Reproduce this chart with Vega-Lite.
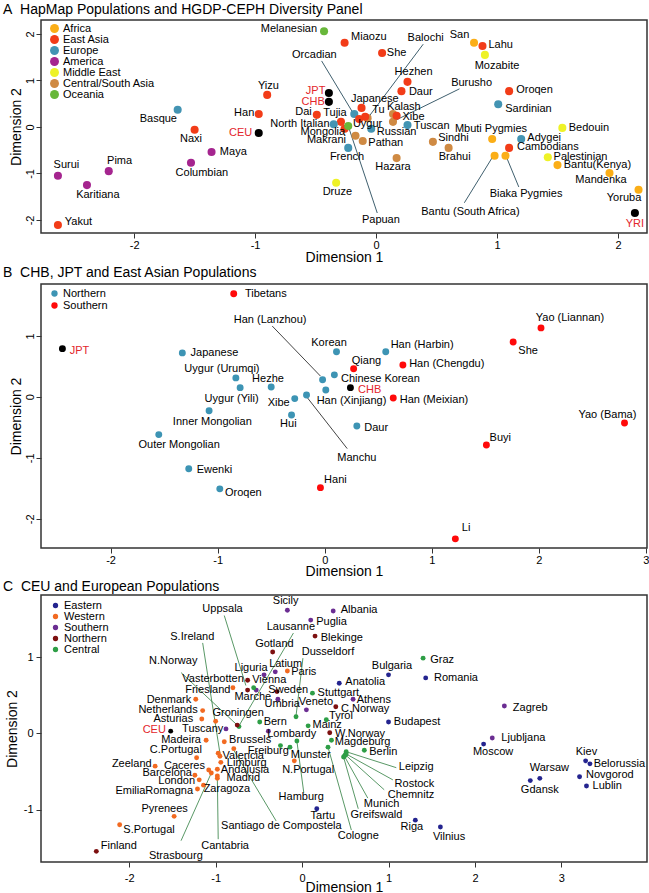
{
  "$schema": "https://vega.github.io/schema/vega-lite/v6.json",
  "background": "white",
  "padding": {"left": 2, "top": 2, "right": 2, "bottom": 2},
  "spacing": 0,
  "config": {
    "font": "Liberation Sans",
    "view": {"stroke": "#333333", "strokeWidth": 1.5},
    "axis": {"grid": false, "domain": false, "tickColor": "#333333", "tickSize": 5, "labelFont": "Liberation Sans", "labelFontSize": 11, "labelColor": "#000000", "titleFont": "Liberation Sans", "titleFontSize": 14, "titleFontWeight": "normal", "titleColor": "#000000", "labelPadding": 1, "titlePadding": 1},
    "title": {"font": "Liberation Sans", "fontSize": 14, "fontWeight": "normal", "color": "#000000", "anchor": "start", "frame": "group"},
    "legend": {"labelFont": "Liberation Sans", "labelFontSize": 11, "labelColor": "#000000", "padding": 0, "rowPadding": 0, "symbolStrokeWidth": 0, "labelOffset": 3}
  },
  "datasets": {
    "a": [
      {"name": "Melanesian", "group": "Oceania", "x": -0.43, "y": 2.06, "labelX": -0.72, "labelY": 2.11},
      {"name": "Miaozu", "group": "East Asia", "x": -0.26, "y": 1.81, "labelX": -0.06, "labelY": 1.94},
      {"name": "She", "group": "East Asia", "x": 0.05, "y": 1.59, "labelX": 0.17, "labelY": 1.59},
      {"name": "San", "group": "Africa", "x": 0.81, "y": 1.81, "labelX": 0.69, "labelY": 1.98},
      {"name": "Lahu", "group": "East Asia", "x": 0.88, "y": 1.74, "labelX": 1.03, "labelY": 1.76},
      {"name": "Mozabite", "group": "Middle East", "x": 0.90, "y": 1.55, "labelX": 1.00, "labelY": 1.31},
      {"name": "Orcadian", "group": "Europe", "x": -0.18, "y": 0.28, "labelX": -0.51, "labelY": 1.55},
      {"name": "Balochi", "group": "Central/South Asia", "x": -0.07, "y": 0.19, "labelX": 0.41, "labelY": 1.91},
      {"name": "Hezhen", "group": "East Asia", "x": 0.26, "y": 0.97, "labelX": 0.31, "labelY": 1.18},
      {"name": "Daur", "group": "East Asia", "x": 0.21, "y": 0.77, "labelX": 0.37, "labelY": 0.75},
      {"name": "Burusho", "group": "Central/South Asia", "x": 0.14, "y": 0.11, "labelX": 0.79, "labelY": 0.95},
      {"name": "Oroqen", "group": "East Asia", "x": 1.10, "y": 0.77, "labelX": 1.31, "labelY": 0.80},
      {"name": "Sardinian", "group": "Europe", "x": 1.01, "y": 0.49, "labelX": 1.26, "labelY": 0.39},
      {"name": "Yizu", "group": "East Asia", "x": -0.90, "y": 0.69, "labelX": -0.89, "labelY": 0.88},
      {"name": "JPT", "group": "HapMap", "x": -0.39, "y": 0.73, "labelX": -0.50, "labelY": 0.77},
      {"name": "CHB", "group": "HapMap", "x": -0.39, "y": 0.54, "labelX": -0.52, "labelY": 0.54},
      {"name": "Basque", "group": "Europe", "x": -1.64, "y": 0.37, "labelX": -1.80, "labelY": 0.17},
      {"name": "Han", "group": "East Asia", "x": -0.97, "y": 0.28, "labelX": -1.09, "labelY": 0.30},
      {"name": "Dai", "group": "East Asia", "x": -0.49, "y": 0.26, "labelX": -0.60, "labelY": 0.32},
      {"name": "Tujia", "group": "East Asia", "x": -0.29, "y": 0.11, "labelX": -0.34, "labelY": 0.30},
      {"name": "Japanese", "group": "East Asia", "x": -0.12, "y": 0.41, "labelX": -0.01, "labelY": 0.60},
      {"name": "Tu", "group": "East Asia", "x": -0.09, "y": 0.22, "labelX": 0.02, "labelY": 0.37},
      {"name": "Kalash", "group": "Central/South Asia", "x": 0.14, "y": 0.28, "labelX": 0.23, "labelY": 0.43},
      {"name": "Xibe", "group": "East Asia", "x": 0.17, "y": 0.24, "labelX": 0.31, "labelY": 0.22},
      {"name": "North Italian", "group": "Europe", "x": -0.35, "y": 0.06, "labelX": -0.63, "labelY": 0.06},
      {"name": "Uygur", "group": "East Asia", "x": -0.14, "y": 0.17, "labelX": -0.07, "labelY": 0.06},
      {"name": "Mongolia", "group": "East Asia", "x": -0.26, "y": -0.04, "labelX": -0.44, "labelY": -0.11},
      {"name": "Makrani", "group": "Central/South Asia", "x": -0.17, "y": -0.19, "labelX": -0.41, "labelY": -0.28},
      {"name": "Papuan", "group": "Oceania", "x": -0.23, "y": 0.02, "labelX": 0.04, "labelY": -2.0},
      {"name": "Pathan", "group": "Central/South Asia", "x": -0.11, "y": -0.30, "labelX": 0.08, "labelY": -0.34},
      {"name": "Russian", "group": "Europe", "x": -0.04, "y": -0.04, "labelX": 0.17, "labelY": -0.11},
      {"name": "Tuscan", "group": "Europe", "x": 0.26, "y": 0.04, "labelX": 0.46, "labelY": 0.02},
      {"name": "French", "group": "Europe", "x": -0.23, "y": -0.45, "labelX": -0.24, "labelY": -0.65},
      {"name": "Sindhi", "group": "Central/South Asia", "x": 0.47, "y": -0.32, "labelX": 0.64, "labelY": -0.24},
      {"name": "Brahui", "group": "Central/South Asia", "x": 0.60, "y": -0.45, "labelX": 0.65, "labelY": -0.65},
      {"name": "Hazara", "group": "Central/South Asia", "x": 0.17, "y": -0.67, "labelX": 0.14, "labelY": -0.86},
      {"name": "Mbuti Pygmies", "group": "Africa", "x": 0.96, "y": -0.26, "labelX": 0.95, "labelY": -0.04},
      {"name": "Adygei", "group": "Europe", "x": 1.20, "y": -0.26, "labelX": 1.39, "labelY": -0.24},
      {"name": "Cambodians", "group": "East Asia", "x": 1.10, "y": -0.45, "labelX": 1.42, "labelY": -0.43},
      {"name": "Bedouin", "group": "Middle East", "x": 1.54, "y": -0.02, "labelX": 1.76, "labelY": -0.02},
      {"name": "Palestinian", "group": "Middle East", "x": 1.42, "y": -0.65, "labelX": 1.69, "labelY": -0.65},
      {"name": "Bantu(Kenya)", "group": "Africa", "x": 1.50, "y": -0.82, "labelX": 1.83, "labelY": -0.82},
      {"name": "Mandenka", "group": "Africa", "x": 1.93, "y": -0.99, "labelX": 1.86, "labelY": -1.14},
      {"name": "Yoruba", "group": "Africa", "x": 2.17, "y": -1.35, "labelX": 2.05, "labelY": -1.53},
      {"name": "YRI", "group": "HapMap", "x": 2.14, "y": -1.85, "labelX": 2.14, "labelY": -2.09},
      {"name": "Bantu (South Africa)", "group": "Africa", "x": 0.98, "y": -0.62, "labelX": 0.78, "labelY": -1.83},
      {"name": "Biaka Pygmies", "group": "Africa", "x": 1.07, "y": -0.62, "labelX": 1.24, "labelY": -1.44},
      {"name": "Druze", "group": "Middle East", "x": -0.33, "y": -1.20, "labelX": -0.32, "labelY": -1.40},
      {"name": "Naxi", "group": "East Asia", "x": -1.50, "y": -0.06, "labelX": -1.53, "labelY": -0.26},
      {"name": "CEU", "group": "HapMap", "x": -0.97, "y": -0.13, "labelX": -1.12, "labelY": -0.13},
      {"name": "Maya", "group": "America", "x": -1.36, "y": -0.54, "labelX": -1.18, "labelY": -0.54},
      {"name": "Columbian", "group": "America", "x": -1.53, "y": -0.77, "labelX": -1.44, "labelY": -0.99},
      {"name": "Pima", "group": "America", "x": -2.21, "y": -0.95, "labelX": -2.12, "labelY": -0.73},
      {"name": "Surui", "group": "America", "x": -2.63, "y": -1.05, "labelX": -2.56, "labelY": -0.82},
      {"name": "Karitiana", "group": "America", "x": -2.39, "y": -1.25, "labelX": -2.30, "labelY": -1.46},
      {"name": "Yakut", "group": "East Asia", "x": -2.63, "y": -2.11, "labelX": -2.46, "labelY": -2.04}
    ],
    "aLines": [
      {"name": "Orcadian", "x": -0.45, "y": 1.42, "x2": -0.19, "y2": 0.30},
      {"name": "Balochi", "x": 0.39, "y": 1.78, "x2": -0.06, "y2": 0.22},
      {"name": "Burusho", "x": 0.69, "y": 0.82, "x2": 0.15, "y2": 0.13},
      {"name": "Papuan", "x": 0.01, "y": -1.85, "x2": -0.23, "y2": 0.02},
      {"name": "Bantu (South Africa)", "x": 0.73, "y": -1.63, "x2": 0.96, "y2": -0.66},
      {"name": "Biaka Pygmies", "x": 1.18, "y": -1.29, "x2": 1.08, "y2": -0.66}
    ],
    "b": [
      {"name": "Tibetans", "group": "Southern", "x": -0.85, "y": 1.69, "labelX": -0.55, "labelY": 1.69},
      {"name": "JPT", "group": "HapMap", "x": -2.45, "y": 0.79, "labelX": -2.29, "labelY": 0.75},
      {"name": "Japanese", "group": "Northern", "x": -1.33, "y": 0.72, "labelX": -1.03, "labelY": 0.72},
      {"name": "Uygur (Urumqi)", "group": "Northern", "x": -0.83, "y": 0.31, "labelX": -0.96, "labelY": 0.46},
      {"name": "Uygur (Yili)", "group": "Northern", "x": -0.79, "y": 0.15, "labelX": -0.87, "labelY": -0.03},
      {"name": "Hezhe", "group": "Northern", "x": -0.50, "y": 0.16, "labelX": -0.53, "labelY": 0.30},
      {"name": "Inner Mongolian", "group": "Northern", "x": -1.08, "y": -0.23, "labelX": -1.05, "labelY": -0.41},
      {"name": "Outer Mongolian", "group": "Northern", "x": -1.55, "y": -0.62, "labelX": -1.36, "labelY": -0.79},
      {"name": "Xibe", "group": "Northern", "x": -0.28, "y": -0.03, "labelX": -0.43, "labelY": -0.10},
      {"name": "Hui", "group": "Northern", "x": -0.31, "y": -0.30, "labelX": -0.34, "labelY": -0.44},
      {"name": "Manchu", "group": "Northern", "x": -0.17, "y": 0.03, "labelX": 0.30, "labelY": -1.00},
      {"name": "Han (Lanzhou)", "group": "Northern", "x": -0.02, "y": 0.28, "labelX": -0.51, "labelY": 1.26},
      {"name": "Han (Xinjiang)", "group": "Northern", "x": 0.01, "y": 0.11, "labelX": 0.25, "labelY": -0.07},
      {"name": "Chinese Korean", "group": "Northern", "x": 0.09, "y": 0.36, "labelX": 0.52, "labelY": 0.30},
      {"name": "Korean", "group": "Northern", "x": 0.11, "y": 0.74, "labelX": 0.04, "labelY": 0.89},
      {"name": "Han (Harbin)", "group": "Northern", "x": 0.57, "y": 0.74, "labelX": 0.91, "labelY": 0.85},
      {"name": "Qiang", "group": "Southern", "x": 0.27, "y": 0.46, "labelX": 0.39, "labelY": 0.59},
      {"name": "Han (Chengdu)", "group": "Southern", "x": 0.73, "y": 0.52, "labelX": 1.14, "labelY": 0.54},
      {"name": "CHB", "group": "HapMap", "x": 0.24, "y": 0.15, "labelX": 0.42, "labelY": 0.11},
      {"name": "Han (Meixian)", "group": "Southern", "x": 0.64, "y": -0.02, "labelX": 1.02, "labelY": -0.05},
      {"name": "Daur", "group": "Northern", "x": 0.30, "y": -0.48, "labelX": 0.48, "labelY": -0.52},
      {"name": "She", "group": "Southern", "x": 1.76, "y": 0.90, "labelX": 1.90, "labelY": 0.75},
      {"name": "Yao (Liannan)", "group": "Southern", "x": 2.02, "y": 1.13, "labelX": 2.29, "labelY": 1.30},
      {"name": "Yao (Bama)", "group": "Southern", "x": 2.80, "y": -0.43, "labelX": 2.64, "labelY": -0.30},
      {"name": "Buyi", "group": "Southern", "x": 1.51, "y": -0.79, "labelX": 1.64, "labelY": -0.67},
      {"name": "Ewenki", "group": "Northern", "x": -1.27, "y": -1.18, "labelX": -1.03, "labelY": -1.20},
      {"name": "Oroqen", "group": "Northern", "x": -0.98, "y": -1.51, "labelX": -0.76, "labelY": -1.57},
      {"name": "Hani", "group": "Southern", "x": -0.04, "y": -1.49, "labelX": 0.10, "labelY": -1.36},
      {"name": "Li", "group": "Southern", "x": 1.22, "y": -2.33, "labelX": 1.32, "labelY": -2.16}
    ],
    "bLines": [
      {"name": "Han (Lanzhou)", "x": -0.49, "y": 1.16, "x2": -0.04, "y2": 0.34},
      {"name": "Manchu", "x": -0.16, "y": -0.02, "x2": 0.21, "y2": -0.85}
    ],
    "c": [
      {"name": "Sicily", "group": "Southern", "x": -0.17, "y": 1.62, "labelX": -0.19, "labelY": 1.74},
      {"name": "Albania", "group": "Southern", "x": 0.36, "y": 1.61, "labelX": 0.66, "labelY": 1.62},
      {"name": "Puglia", "group": "Southern", "x": 0.10, "y": 1.49, "labelX": 0.34, "labelY": 1.47},
      {"name": "Blekinge", "group": "Northern", "x": 0.15, "y": 1.28, "labelX": 0.46, "labelY": 1.26},
      {"name": "Gotland", "group": "Northern", "x": -0.34, "y": 1.07, "labelX": -0.32, "labelY": 1.18},
      {"name": "Graz", "group": "Central", "x": 1.40, "y": 0.99, "labelX": 1.62, "labelY": 0.97},
      {"name": "Bulgaria", "group": "Eastern", "x": 1.00, "y": 0.77, "labelX": 1.04, "labelY": 0.89},
      {"name": "Romania", "group": "Eastern", "x": 1.43, "y": 0.73, "labelX": 1.78, "labelY": 0.73},
      {"name": "Anatolia", "group": "Eastern", "x": 0.43, "y": 0.66, "labelX": 0.73, "labelY": 0.68},
      {"name": "Budapest", "group": "Eastern", "x": 1.00, "y": 0.15, "labelX": 1.33, "labelY": 0.15},
      {"name": "Zagreb", "group": "Southern", "x": 2.34, "y": 0.36, "labelX": 2.64, "labelY": 0.34},
      {"name": "Ljubljana", "group": "Southern", "x": 2.20, "y": -0.06, "labelX": 2.56, "labelY": -0.06},
      {"name": "Moscow", "group": "Eastern", "x": 2.10, "y": -0.14, "labelX": 2.21, "labelY": -0.24},
      {"name": "Kiev", "group": "Eastern", "x": 3.28, "y": -0.36, "labelX": 3.29, "labelY": -0.24},
      {"name": "Belorussia", "group": "Eastern", "x": 3.33, "y": -0.40, "labelX": 3.67, "labelY": -0.40},
      {"name": "Novgorod", "group": "Eastern", "x": 3.21, "y": -0.57, "labelX": 3.56, "labelY": -0.55},
      {"name": "Lublin", "group": "Eastern", "x": 3.29, "y": -0.69, "labelX": 3.53, "labelY": -0.69},
      {"name": "Warsaw", "group": "Eastern", "x": 2.75, "y": -0.59, "labelX": 2.86, "labelY": -0.45},
      {"name": "Gdansk", "group": "Eastern", "x": 2.64, "y": -0.62, "labelX": 2.75, "labelY": -0.74},
      {"name": "Riga", "group": "Eastern", "x": 1.31, "y": -1.14, "labelX": 1.27, "labelY": -1.23},
      {"name": "Vilnius", "group": "Eastern", "x": 1.60, "y": -1.23, "labelX": 1.70, "labelY": -1.36},
      {"name": "Tartu", "group": "Eastern", "x": 0.17, "y": -0.99, "labelX": 0.24, "labelY": -1.09},
      {"name": "Hamburg", "group": "Central", "x": -0.06, "y": -0.10, "labelX": -0.01, "labelY": -0.84},
      {"name": "Cologne", "group": "Central", "x": 0.30, "y": -0.18, "labelX": 0.65, "labelY": -1.35},
      {"name": "Leipzig", "group": "Central", "x": 0.51, "y": -0.24, "labelX": 1.32, "labelY": -0.44},
      {"name": "Rostock", "group": "Central", "x": 0.51, "y": -0.27, "labelX": 1.30, "labelY": -0.66},
      {"name": "Chemnitz", "group": "Central", "x": 0.50, "y": -0.28, "labelX": 1.26, "labelY": -0.81},
      {"name": "Munich", "group": "Central", "x": 0.49, "y": -0.30, "labelX": 0.92, "labelY": -0.93},
      {"name": "Greifswald", "group": "Central", "x": 0.48, "y": -0.31, "labelX": 0.86, "labelY": -1.07},
      {"name": "Berlin", "group": "Central", "x": 0.72, "y": -0.22, "labelX": 0.94, "labelY": -0.24},
      {"name": "Magdeburg", "group": "Central", "x": 0.34, "y": -0.09, "labelX": 0.70, "labelY": -0.11},
      {"name": "W.Norway", "group": "Northern", "x": 0.32, "y": 0.01, "labelX": 0.67, "labelY": -0.01},
      {"name": "Mainz", "group": "Central", "x": 0.07, "y": 0.10, "labelX": 0.29, "labelY": 0.11},
      {"name": "Tyrol", "group": "Central", "x": 0.28, "y": 0.18, "labelX": 0.45, "labelY": 0.23},
      {"name": "C.Norway", "group": "Northern", "x": 0.39, "y": 0.35, "labelX": 0.73, "labelY": 0.32},
      {"name": "Athens", "group": "Southern", "x": 0.59, "y": 0.45, "labelX": 0.83, "labelY": 0.44},
      {"name": "Stuttgart", "group": "Central", "x": 0.12, "y": 0.53, "labelX": 0.42, "labelY": 0.53},
      {"name": "Veneto", "group": "Southern", "x": 0.05, "y": 0.31, "labelX": 0.16, "labelY": 0.41},
      {"name": "Dusseldorf", "group": "Central", "x": -0.07, "y": 0.22, "labelX": 0.30, "labelY": 1.07},
      {"name": "Lombardy", "group": "Southern", "x": -0.39, "y": 0.03, "labelX": -0.12, "labelY": -0.01},
      {"name": "Bern", "group": "Central", "x": -0.49, "y": 0.15, "labelX": -0.31, "labelY": 0.15},
      {"name": "Freiburg", "group": "Central", "x": -0.25, "y": -0.16, "labelX": -0.39, "labelY": -0.23},
      {"name": "Munster", "group": "Central", "x": -0.14, "y": -0.18, "labelX": 0.10, "labelY": -0.28},
      {"name": "N.Portugal", "group": "Western", "x": -0.09, "y": -0.36, "labelX": 0.07, "labelY": -0.48},
      {"name": "Umbria", "group": "Southern", "x": -0.28, "y": 0.45, "labelX": -0.23, "labelY": 0.39},
      {"name": "Sweden", "group": "Northern", "x": -0.29, "y": 0.55, "labelX": -0.16, "labelY": 0.57},
      {"name": "Marche", "group": "Southern", "x": -0.53, "y": 0.57, "labelX": -0.57, "labelY": 0.48},
      {"name": "Vienna", "group": "Central", "x": -0.56, "y": 0.60, "labelX": -0.38, "labelY": 0.70},
      {"name": "Uppsala", "group": "Northern", "x": -0.63, "y": 0.57, "labelX": -0.92, "labelY": 1.63},
      {"name": "Vasterbotten", "group": "Northern", "x": -0.63, "y": 0.70, "labelX": -1.03, "labelY": 0.72},
      {"name": "Liguria", "group": "Southern", "x": -0.44, "y": 0.77, "labelX": -0.59, "labelY": 0.86},
      {"name": "Latium", "group": "Southern", "x": -0.31, "y": 0.81, "labelX": -0.19, "labelY": 0.91},
      {"name": "Paris", "group": "Western", "x": -0.17, "y": 0.82, "labelX": 0.02, "labelY": 0.81},
      {"name": "Lausanne", "group": "Central", "x": -0.73, "y": 0.09, "labelX": -0.13, "labelY": 1.40},
      {"name": "Friesland", "group": "Western", "x": -0.80, "y": 0.60, "labelX": -1.09, "labelY": 0.57},
      {"name": "Denmark", "group": "Western", "x": -1.23, "y": 0.45, "labelX": -1.54, "labelY": 0.44},
      {"name": "Netherlands", "group": "Western", "x": -1.15, "y": 0.30, "labelX": -1.55, "labelY": 0.31},
      {"name": "Asturias", "group": "Western", "x": -1.16, "y": 0.19, "labelX": -1.49, "labelY": 0.19},
      {"name": "Groningen", "group": "Western", "x": -1.00, "y": 0.16, "labelX": -0.74, "labelY": 0.27},
      {"name": "N.Norway", "group": "Northern", "x": -0.75, "y": 0.11, "labelX": -1.49, "labelY": 0.95},
      {"name": "S.Ireland", "group": "Western", "x": -0.95, "y": -0.30, "labelX": -1.27, "labelY": 1.27},
      {"name": "Tuscany", "group": "Southern", "x": -0.88, "y": 0.06, "labelX": -1.15, "labelY": 0.06},
      {"name": "CEU", "group": "HapMap", "x": -1.52, "y": 0.03, "labelX": -1.71, "labelY": 0.05},
      {"name": "Madeira", "group": "Western", "x": -1.11, "y": -0.09, "labelX": -1.40, "labelY": -0.09},
      {"name": "Brussels", "group": "Western", "x": -0.90, "y": -0.11, "labelX": -0.60, "labelY": -0.09},
      {"name": "C.Portugal", "group": "Western", "x": -1.22, "y": -0.32, "labelX": -1.46, "labelY": -0.22},
      {"name": "Santiago de Compostela", "group": "Western", "x": -0.79, "y": -0.20, "labelX": -0.24, "labelY": -1.22},
      {"name": "Valencia", "group": "Western", "x": -0.97, "y": -0.26, "labelX": -0.68, "labelY": -0.30},
      {"name": "Limburg", "group": "Western", "x": -0.94, "y": -0.38, "labelX": -0.64, "labelY": -0.39},
      {"name": "Andalusia", "group": "Western", "x": -0.98, "y": -0.47, "labelX": -0.66, "labelY": -0.48},
      {"name": "Caceres", "group": "Western", "x": -1.08, "y": -0.48, "labelX": -1.36, "labelY": -0.43},
      {"name": "Barcelona", "group": "Western", "x": -1.24, "y": -0.55, "labelX": -1.56, "labelY": -0.52},
      {"name": "London", "group": "Western", "x": -1.19, "y": -0.61, "labelX": -1.45, "labelY": -0.63},
      {"name": "Madrid", "group": "Western", "x": -0.98, "y": -0.59, "labelX": -0.68, "labelY": -0.59},
      {"name": "Zaragoza", "group": "Western", "x": -1.14, "y": -0.68, "labelX": -0.87, "labelY": -0.73},
      {"name": "EmiliaRomagna", "group": "Western", "x": -1.21, "y": -0.73, "labelX": -1.71, "labelY": -0.76},
      {"name": "Zeeland", "group": "Western", "x": -1.70, "y": -0.43, "labelX": -1.97, "labelY": -0.40},
      {"name": "Pyrenees", "group": "Western", "x": -1.48, "y": -1.09, "labelX": -1.59, "labelY": -0.99},
      {"name": "S.Portugal", "group": "Western", "x": -2.11, "y": -1.20, "labelX": -1.77, "labelY": -1.27},
      {"name": "Finland", "group": "Northern", "x": -2.38, "y": -1.55, "labelX": -2.12, "labelY": -1.48},
      {"name": "Strasbourg", "group": "Western", "x": -1.05, "y": -0.52, "labelX": -1.46, "labelY": -1.61},
      {"name": "Cantabria", "group": "Western", "x": -0.98, "y": -0.56, "labelX": -0.89, "labelY": -1.48}
    ],
    "cLines": [
      {"name": "Uppsala", "x": -0.90, "y": 1.55, "x2": -0.65, "y2": 0.63},
      {"name": "S.Ireland", "x": -1.15, "y": 1.19, "x2": -0.95, "y2": -0.26},
      {"name": "N.Norway", "x": -1.40, "y": 0.80, "x2": -0.76, "y2": 0.12},
      {"name": "Lausanne", "x": -0.10, "y": 1.32, "x2": -0.73, "y2": 0.10},
      {"name": "Dusseldorf", "x": 0.01, "y": 0.99, "x2": -0.07, "y2": 0.23},
      {"name": "Strasbourg", "x": -1.40, "y": -1.41, "x2": -1.05, "y2": -0.52},
      {"name": "Cantabria", "x": -0.97, "y": -1.39, "x2": -0.98, "y2": -0.59},
      {"name": "Santiago de Compostela", "x": -0.30, "y": -1.15, "x2": -0.79, "y2": -0.22},
      {"name": "Hamburg", "x": 0.02, "y": -0.78, "x2": -0.06, "y2": -0.10},
      {"name": "Cologne", "x": 0.57, "y": -1.27, "x2": 0.30, "y2": -0.18},
      {"name": "Leipzig", "x": 1.09, "y": -0.45, "x2": 0.51, "y2": -0.24},
      {"name": "Rostock", "x": 1.05, "y": -0.61, "x2": 0.51, "y2": -0.27},
      {"name": "Chemnitz", "x": 0.95, "y": -0.74, "x2": 0.50, "y2": -0.28},
      {"name": "Munich", "x": 0.76, "y": -0.85, "x2": 0.49, "y2": -0.30},
      {"name": "Greifswald", "x": 0.65, "y": -0.99, "x2": 0.48, "y2": -0.31}
    ]
  },
  "resolve": {"scale": {"color": "independent", "x": "independent", "y": "independent"}, "legend": {"color": "independent"}, "axis": {"x": "independent", "y": "independent"}},
  "vconcat": [
    {
      "title": {"text": "A\u00a0\u00a0HapMap Populations and HGDP-CEPH Diversity Panel", "dx": -38, "offset": 3},
      "width": 606,
      "height": 213,
      "layer": [
        {
          "data": {"name": "aLines"},
          "mark": {"type": "rule", "color": "#3f5f6e", "strokeWidth": 1},
          "encoding": {
            "x": {"field": "x", "type": "quantitative", "title": "Dimension 1", "scale": {"domain": [-2.77, 2.24], "nice": false, "zero": false}, "axis": {"values": [-2, -1, 0, 1, 2], "labelExpr": "'' + datum.value", "titlePadding": 0}},
            "y": {"field": "y", "type": "quantitative", "title": "Dimension 2", "scale": {"domain": [-2.28, 2.30], "nice": false, "zero": false}, "axis": {"values": [-2, -1, 0, 1, 2], "labelExpr": "'' + datum.value", "labelAngle": 270}},
            "x2": {"field": "x2"},
            "y2": {"field": "y2"}
          }
        },
        {
          "data": {"name": "a"},
          "mark": {"type": "circle", "size": 65, "opacity": 1},
          "encoding": {
            "x": {"field": "x", "type": "quantitative", "title": "Dimension 1"},
            "y": {"field": "y", "type": "quantitative", "title": "Dimension 2"},
            "color": {"field": "group", "type": "nominal", "scale": {"domain": ["Africa", "East Asia", "Europe", "America", "Middle East", "Central/South Asia", "Oceania", "HapMap"], "range": ["#fbae17", "#f23c18", "#4394b3", "#a5258f", "#eef227", "#cf8a43", "#68b73a", "#000000"]}, "legend": {"title": null, "values": ["Africa", "East Asia", "Europe", "America", "Middle East", "Central/South Asia", "Oceania"], "orient": "none", "legendX": 8, "legendY": 3, "symbolSize": 80, "symbolType": "circle", "rowPadding": -1}}
          }
        },
        {
          "data": {"name": "a"},
          "mark": {"type": "text", "fontSize": 11, "align": "center", "baseline": "middle", "font": "Liberation Sans"},
          "encoding": {
            "x": {"field": "labelX", "type": "quantitative", "title": "Dimension 1"},
            "y": {"field": "labelY", "type": "quantitative", "title": "Dimension 2"},
            "text": {"field": "name"},
            "color": {"condition": {"test": "datum.group === 'HapMap'", "value": "#e3262b"}, "value": "#000000"}
          }
        }
      ]
    },
    {
      "title": {"text": "B\u00a0\u00a0CHB, JPT and East Asian Populations", "dx": -38, "offset": 4},
      "width": 606,
      "height": 264,
      "layer": [
        {
          "data": {"name": "bLines"},
          "mark": {"type": "rule", "color": "#444444", "strokeWidth": 1},
          "encoding": {
            "x": {"field": "x", "type": "quantitative", "title": "Dimension 1", "scale": {"domain": [-2.65, 3.01], "nice": false, "zero": false}, "axis": {"values": [-2, -1, 0, 1, 2, 3], "labelExpr": "'' + datum.value", "titlePadding": -1}},
            "y": {"field": "y", "type": "quantitative", "title": "Dimension 2", "scale": {"domain": [-2.48, 1.85], "nice": false, "zero": false}, "axis": {"values": [-2, -1, 0, 1], "labelExpr": "'' + datum.value", "labelAngle": 270}},
            "x2": {"field": "x2"},
            "y2": {"field": "y2"}
          }
        },
        {
          "data": {"name": "b"},
          "mark": {"type": "circle", "size": 48, "opacity": 1},
          "encoding": {
            "x": {"field": "x", "type": "quantitative", "title": "Dimension 1"},
            "y": {"field": "y", "type": "quantitative", "title": "Dimension 2"},
            "color": {"field": "group", "type": "nominal", "scale": {"domain": ["Northern", "Southern", "HapMap"], "range": ["#3d94b4", "#ff0a0a", "#000000"]}, "legend": {"title": null, "values": ["Northern", "Southern"], "orient": "none", "legendX": 8, "legendY": 4, "symbolSize": 40, "symbolType": "circle"}}
          }
        },
        {
          "data": {"name": "b"},
          "mark": {"type": "text", "fontSize": 11, "align": "center", "baseline": "middle", "font": "Liberation Sans"},
          "encoding": {
            "x": {"field": "labelX", "type": "quantitative", "title": "Dimension 1"},
            "y": {"field": "labelY", "type": "quantitative", "title": "Dimension 2"},
            "text": {"field": "name"},
            "color": {"condition": {"test": "datum.group === 'HapMap'", "value": "#e3262b"}, "value": "#000000"}
          }
        }
      ]
    },
    {
      "title": {"text": "C\u00a0\u00a0CEU and European Populations", "dx": -38, "offset": 1},
      "width": 606,
      "height": 267,
      "layer": [
        {
          "data": {"name": "cLines"},
          "mark": {"type": "rule", "color": "#2f7d3f", "strokeWidth": 0.8},
          "encoding": {
            "x": {"field": "x", "type": "quantitative", "title": "Dimension 1", "scale": {"domain": [-3.02, 3.99], "nice": false, "zero": false}, "axis": {"values": [-2, -1, 0, 1, 2, 3], "labelExpr": "'' + datum.value", "labelPadding": 5, "titlePadding": -3}},
            "y": {"field": "y", "type": "quantitative", "title": "Dimension 2", "scale": {"domain": [-1.69, 1.82], "nice": false, "zero": false}, "axis": {"values": [-1, 0, 1], "labelExpr": "'' + datum.value", "labelAngle": 0, "labelPadding": 3, "titlePadding": 4}},
            "x2": {"field": "x2"},
            "y2": {"field": "y2"}
          }
        },
        {
          "data": {"name": "c"},
          "mark": {"type": "circle", "size": 24, "opacity": 1},
          "encoding": {
            "x": {"field": "x", "type": "quantitative", "title": "Dimension 1"},
            "y": {"field": "y", "type": "quantitative", "title": "Dimension 2"},
            "color": {"field": "group", "type": "nominal", "scale": {"domain": ["Eastern", "Western", "Southern", "Northern", "Central", "HapMap"], "range": ["#24248f", "#f26a21", "#6b2d92", "#7d1010", "#2e9e46", "#000000"]}, "legend": {"title": null, "values": ["Eastern", "Western", "Southern", "Northern", "Central"], "orient": "none", "legendX": 9, "legendY": 5, "symbolSize": 28, "symbolType": "circle", "rowPadding": -1}}
          }
        },
        {
          "data": {"name": "c"},
          "mark": {"type": "text", "fontSize": 11, "align": "center", "baseline": "middle", "font": "Liberation Sans"},
          "encoding": {
            "x": {"field": "labelX", "type": "quantitative", "title": "Dimension 1"},
            "y": {"field": "labelY", "type": "quantitative", "title": "Dimension 2"},
            "text": {"field": "name"},
            "color": {"condition": {"test": "datum.group === 'HapMap'", "value": "#e3262b"}, "value": "#000000"}
          }
        }
      ]
    }
  ]
}
